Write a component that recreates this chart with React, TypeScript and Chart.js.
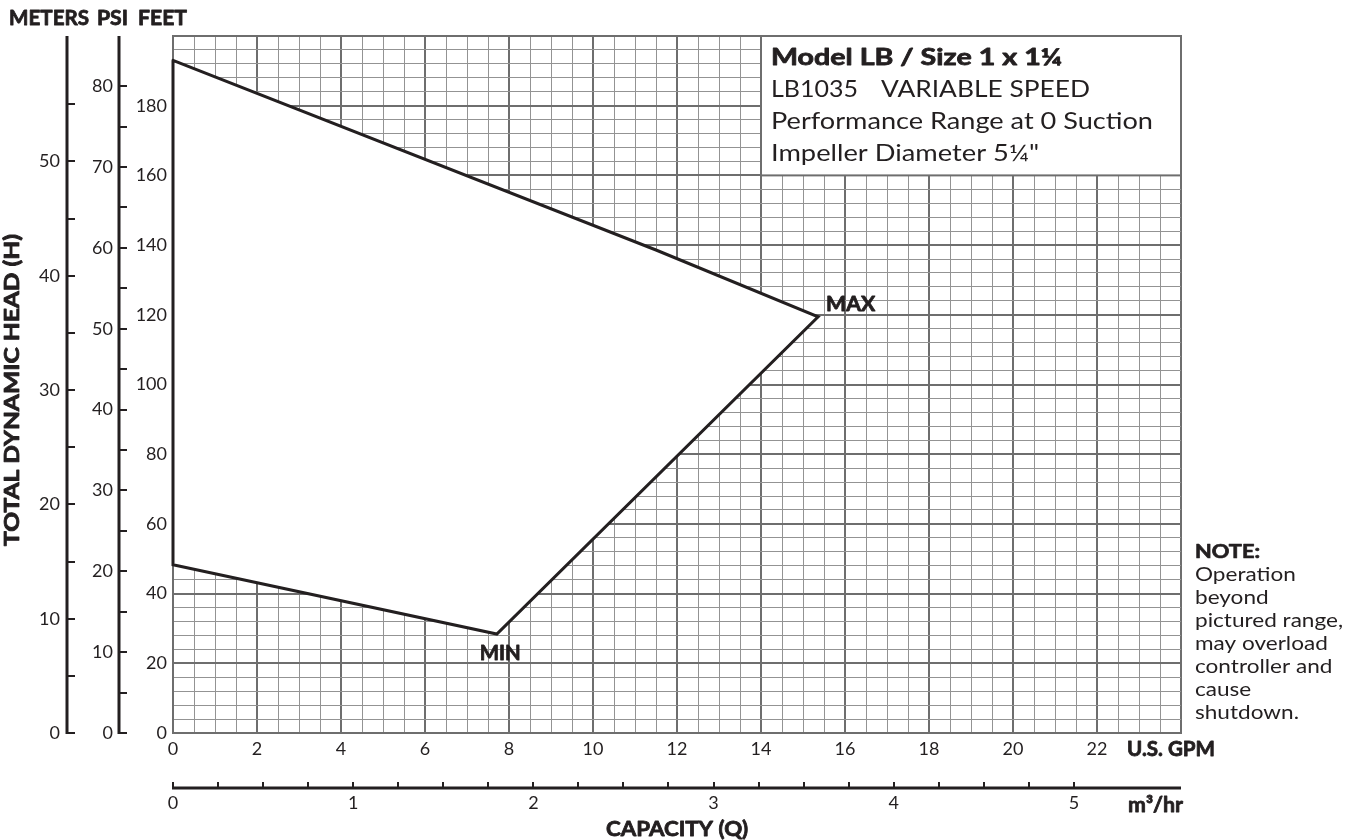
import React, { useEffect, useRef } from 'react';
import { Chart, registerables } from 'chart.js';

Chart.register(...registerables);

// ---------------- data ----------------
const GPM_MAX = 24;
const FEET_MAX = 200;
const FT_PER_PSI = 2.32;
const FT_PER_M = 3.28;
const GPM_PER_M3 = 4.29;

const gpmLabelValues = [0, 2, 4, 6, 8, 10, 12, 14, 16, 18, 20, 22];
const feetLabelValues = [0, 20, 40, 60, 80, 100, 120, 140, 160, 180];
const psiTickValues = [0, 5, 10, 15, 20, 25, 30, 35, 40, 45, 50, 55, 60, 65, 70, 75, 80];
const psiLabelValues = [0, 10, 20, 30, 40, 50, 60, 70, 80];
const meterTickValues = [0, 5, 10, 15, 20, 25, 30, 35, 40, 45, 50, 55];
const meterLabelValues = [0, 10, 20, 30, 40, 50];
const m3TickValues = [0, 0.25, 0.5, 0.75, 1, 1.25, 1.5, 1.75, 2, 2.25, 2.5, 2.75, 3, 3.25, 3.5, 3.75, 4, 4.25, 4.5, 4.75, 5];
const m3LabelValues = [0, 1, 2, 3, 4, 5];

// performance range boundary (GPM, feet)
const upperGpm = [0, 11.5, 15.36];
const upperFeet = [193, 138.6, 119.4];
const lowerGpm = [0, 7.71, 15.36];
const lowerFeet = [48.3, 28.4, 119.4];

const legendTitle = 'Model LB / Size 1 x 1¼';
const legendModel = 'LB1035';
const legendSpeed = 'VARIABLE SPEED';
const legendLine3 = 'Performance Range at 0 Suction';
const legendLine4 = 'Impeller Diameter 5¼"';
const noteLines = ['NOTE:', 'Operation', 'beyond', 'pictured range,', 'may overload', 'controller and', 'cause', 'shutdown.'];

// ---------------- styles ----------------
const INK = '#231f20';
const MAJOR = '#6e6e6e';
const MINOR = '#939393';
const FONT = 'Lato';
const LEGEND_GPM_LEFT = 14;
const LEGEND_FEET_BOTTOM = 160;

function drawText(ctx: any, text: string, x: number, y: number, font: string, opts: any = {}) {
  ctx.save();
  ctx.font = font;
  ctx.fillStyle = INK;
  ctx.strokeStyle = INK;
  ctx.textBaseline = opts.baseline || 'alphabetic';
  ctx.textAlign = 'left';
  const w = ctx.measureText(text).width;
  let sx = 1;
  if (opts.width) sx = opts.width / w;
  else if (opts.stretch) sx = opts.stretch;
  const dw = w * sx;
  let left = x;
  if (opts.align === 'center') left = x - dw / 2;
  else if (opts.align === 'right') left = x - dw;
  ctx.translate(left, y);
  ctx.scale(sx, 1);
  ctx.fillText(text, 0, 0);
  if (opts.heavy) {
    ctx.lineWidth = opts.heavy;
    ctx.lineJoin = 'round';
    ctx.strokeText(text, 0, 0);
  }
  ctx.restore();
}

const decor = {
  id: 'decor',
  afterDatasetsDraw(chart: any) {
    const { ctx, scales } = chart;
    const x = scales.x;
    const y = scales.y;
    const l = x.getPixelForValue(LEGEND_GPM_LEFT);
    const r = x.getPixelForValue(GPM_MAX);
    const t = y.getPixelForValue(FEET_MAX);
    const b = y.getPixelForValue(LEGEND_FEET_BOTTOM);
    ctx.save();
    ctx.fillStyle = '#ffffff';
    ctx.fillRect(l, t, r - l, b - t);
    ctx.strokeStyle = MAJOR;
    ctx.lineWidth = 2;
    ctx.strokeRect(l, t, r - l, b - t);
    ctx.restore();

    drawText(ctx, legendTitle, l + 10, t + 29, `bold 23px ${FONT}`, { width: 291, heavy: 0.8 });
    drawText(ctx, legendModel, l + 10, t + 61, `23px ${FONT}`, { width: 87 });
    drawText(ctx, legendSpeed, l + 120, t + 61, `23px ${FONT}`, { width: 209 });
    drawText(ctx, legendLine3, l + 10, t + 93, `23px ${FONT}`, { width: 382 });
    drawText(ctx, legendLine4, l + 10, t + 125, `23px ${FONT}`, { width: 268 });

    // MAX / MIN markers
    const maxI = upperGpm.length - 1;
    const mx = x.getPixelForValue(upperGpm[maxI]);
    const my = y.getPixelForValue(upperFeet[maxI]);
    drawText(ctx, 'MAX', mx + 8, my - 6, `bold 21px ${FONT}`, { width: 49, heavy: 0.8 });
    let minI = 0;
    lowerFeet.forEach((v, i) => { if (v < lowerFeet[minI]) minI = i; });
    const nx = x.getPixelForValue(lowerGpm[minI]);
    const ny = y.getPixelForValue(lowerFeet[minI]);
    drawText(ctx, 'MIN', nx - 17, ny + 26, `bold 21px ${FONT}`, { width: 41, heavy: 0.8 });
  },
  afterDraw(chart: any) {
    const { ctx, chartArea: a, scales } = chart;
    const psi = scales.yPsi;
    const met = scales.yM;
    const m3 = scales.xM3;

    const vAxis = (scale: any, lx: number, ticks: number[], labels: number[], gap: number) => {
      ctx.save();
      ctx.strokeStyle = INK;
      ctx.lineWidth = 3;
      ctx.beginPath();
      ctx.moveTo(lx, a.top);
      ctx.lineTo(lx, a.bottom + 1);
      ctx.stroke();
      ctx.lineWidth = 2;
      ctx.beginPath();
      ticks.forEach((v) => {
        const py = Math.round(scale.getPixelForValue(v));
        ctx.moveTo(lx, py);
        ctx.lineTo(lx + 8, py);
      });
      ctx.stroke();
      ctx.restore();
      labels.forEach((v) => {
        drawText(ctx, String(v), lx - gap, scale.getPixelForValue(v), `18px ${FONT}`, { align: 'right', baseline: 'middle' });
      });
    };
    vAxis(psi, a.left - 54, psiTickValues, psiLabelValues, 6);
    vAxis(met, a.left - 106, meterTickValues, meterLabelValues, 7);

    // m3/hr axis
    const ly = a.bottom + 55;
    ctx.save();
    ctx.strokeStyle = INK;
    ctx.lineWidth = 3;
    ctx.beginPath();
    ctx.moveTo(a.left - 1, ly);
    ctx.lineTo(a.right, ly);
    ctx.stroke();
    ctx.lineWidth = 2;
    ctx.beginPath();
    m3TickValues.forEach((v) => {
      const px = Math.round(m3.getPixelForValue(v));
      ctx.moveTo(px, ly);
      ctx.lineTo(px, ly - 6);
    });
    ctx.stroke();
    ctx.restore();
    m3LabelValues.forEach((v) => {
      drawText(ctx, String(v), m3.getPixelForValue(v), ly + 15, `18px ${FONT}`, { align: 'center', baseline: 'middle' });
    });

    // titles
    const bold = `bold 21px ${FONT}`;
    drawText(ctx, 'METERS', a.left - 164, a.top - 11, bold, { width: 80, heavy: 0.8 });
    drawText(ctx, 'PSI', a.left - 76, a.top - 11, bold, { width: 31, heavy: 0.8 });
    drawText(ctx, 'FEET', a.left - 35, a.top - 11, bold, { width: 49, heavy: 0.8 });
    drawText(ctx, 'U.S. GPM', a.right - 54, a.bottom + 23, bold, { width: 88, heavy: 0.8 });
    drawText(ctx, 'm³/hr', a.right - 53, a.bottom + 79, bold, { width: 55, heavy: 0.8 });
    drawText(ctx, 'CAPACITY (Q)', (a.left + a.right) / 2, a.bottom + 103, bold, { width: 142, align: 'center', heavy: 0.8 });

    ctx.save();
    ctx.translate(a.left - 154, 390);
    ctx.rotate(-Math.PI / 2);
    drawText(ctx, 'TOTAL DYNAMIC HEAD (H)', 0, 0, `bold 20px ${FONT}`, { width: 312, align: 'center', heavy: 0.8 });
    ctx.restore();

    noteLines.forEach((line, i) => {
      if (i === 0) {
        drawText(ctx, line, a.right + 14, a.bottom - 175, `bold 18.5px ${FONT}`, { width: 65, heavy: 0.7 });
      } else {
        drawText(ctx, line, a.right + 14, a.bottom - 175 + i * 23, `18.5px ${FONT}`, { stretch: 1.22 });
      }
    });
  },
};

export default function App() {
  const ref = useRef<HTMLCanvasElement>(null);
  useEffect(() => {
    const upper = upperGpm.map((g, i) => ({ x: g, y: upperFeet[i] }));
    const lower = lowerGpm.map((g, i) => ({ x: g, y: lowerFeet[i] }));
    const outline = [...upper, ...lower.slice(0, -1).reverse(), upper[0]];
    const majorX = (v: number) => Math.abs(v % 2) < 1e-9;
    const majorY = (v: number) => Math.abs(v % 20) < 1e-9;

    const chart = new Chart(ref.current as HTMLCanvasElement, {
      type: 'line',
      data: {
        datasets: [
          {
            data: outline, borderColor: INK, borderWidth: 3, pointRadius: 0, fill: false,
            tension: 0, clip: false as any, borderCapStyle: 'round', borderJoinStyle: 'miter',
            xAxisID: 'x', yAxisID: 'y',
          },
          {
            data: upper, borderWidth: 0, borderColor: 'rgba(0,0,0,0)', backgroundColor: '#ffffff',
            pointRadius: 0, fill: '+1', tension: 0, xAxisID: 'x', yAxisID: 'y',
          },
          {
            data: lower, borderWidth: 0, borderColor: 'rgba(0,0,0,0)', pointRadius: 0,
            fill: false, tension: 0, xAxisID: 'x', yAxisID: 'y',
          },
        ],
      } as any,
      options: {
        responsive: false,
        animation: false,
        devicePixelRatio: 1,
        events: [],
        layout: { padding: { left: 113, right: 176, top: 36, bottom: 67 } },
        plugins: { legend: { display: false }, tooltip: { enabled: false }, title: { display: false } },
        scales: {
          x: {
            type: 'linear', position: 'bottom', min: 0, max: GPM_MAX,
            afterFit: (s: any) => { s.height = 40; },
            ticks: {
              stepSize: 0.5, autoSkip: false, maxRotation: 0, minRotation: 0, padding: 5,
              color: INK, font: { family: FONT, size: 18 },
              callback: (v: any) => (gpmLabelValues.includes(Number(v)) ? String(v) : ''),
            },
            grid: {
              drawTicks: false,
              color: (c: any) => (c.tick && majorX(c.tick.value) ? MAJOR : MINOR),
              lineWidth: (c: any) => (c.tick && majorX(c.tick.value) ? 2 : 1),
            },
            border: { display: true, color: MAJOR, width: 2 },
          },
          y: {
            type: 'linear', position: 'left', min: 0, max: FEET_MAX,
            afterFit: (s: any) => { s.width = 60; },
            ticks: {
              stepSize: 4, autoSkip: false, padding: 6,
              color: INK, font: { family: FONT, size: 18 },
              callback: (v: any) => (feetLabelValues.includes(Number(v)) ? String(v) : ''),
            },
            grid: {
              drawTicks: false,
              color: (c: any) => (c.tick && majorY(c.tick.value) ? MAJOR : MINOR),
              lineWidth: (c: any) => (c.tick && majorY(c.tick.value) ? 2 : 1),
            },
            border: { display: true, color: MAJOR, width: 2 },
          },
          yPsi: { type: 'linear', axis: 'y', position: 'left', display: false, min: 0, max: FEET_MAX / FT_PER_PSI },
          yM: { type: 'linear', axis: 'y', position: 'left', display: false, min: 0, max: FEET_MAX / FT_PER_M },
          xM3: { type: 'linear', axis: 'x', position: 'bottom', display: false, min: 0, max: GPM_MAX / GPM_PER_M3 },
        },
      } as any,
      plugins: [decor],
    });
    return () => chart.destroy();
  }, []);

  return (
    <div style={{ position: 'absolute', left: 0, top: 0, width: 1357, height: 840, background: '#ffffff' }}>
      <canvas ref={ref} width={1357} height={840} style={{ display: 'block' }} />
    </div>
  );
}
